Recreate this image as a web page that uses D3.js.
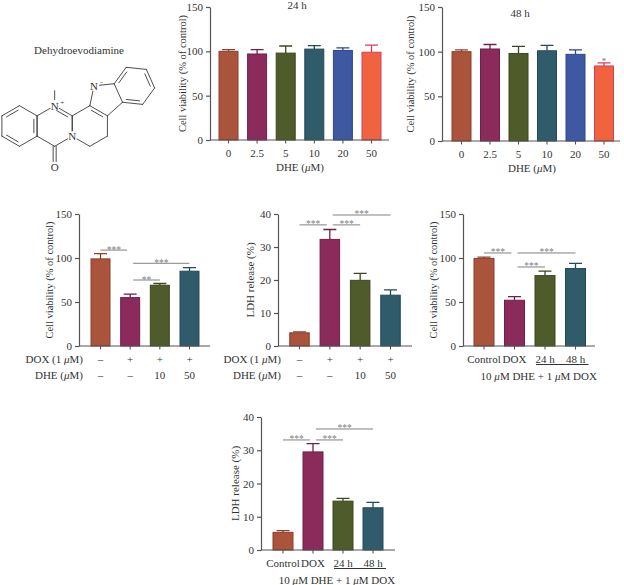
<!DOCTYPE html>
<html><head><meta charset="utf-8">
<script src="https://cdn.jsdelivr.net/npm/d3@7"></script>
<style>
body{margin:0;background:#fff;}
svg{display:block;font-family:"Liberation Serif","Times New Roman",serif;}
</style>
</head><body>
<svg id="c" width="624" height="585"></svg>
<script>
// ---------------- data ----------------
const doseLabels = ["0","2.5","5","10","20","50"];
const via24h = [100, 97, 98, 102.5, 101, 99];
const via24hErr = [2, 5, 8, 4, 3, 8];
const via48h = [100, 103, 98, 101, 97, 84];
const via48hErr = [2, 5, 8, 6, 5, 3.5];
const sig48h = [[5, "*"]];

const treatGroups = ["ctrl","dox","dox+dhe10","dox+dhe50"];
const doxRow = ["–","+","+","+"];
const dheRow = ["–","–","10","50"];
const viaTreat = [99, 55, 69, 85];
const viaTreatErr = [6, 4, 2, 4];
const ldhTreat = [4.0, 32.3, 19.9, 15.4];
const ldhTreatErr = [0.3, 3.0, 2.1, 1.6];

const timeGroups = ["Control","DOX","24 h","48 h"];
const viaTime = [99.5, 52, 80, 88];
const viaTimeErr = [1.5, 4, 5, 6];
const ldhTime = [5.3, 29.5, 14.7, 12.7];
const ldhTimeErr = [0.5, 2.5, 0.8, 1.6];

const viaTicks = [0, 50, 100, 150];
const ldhTicks = [0, 10, 20, 30, 40];

// significance brackets: [fromIndex, toIndex, level (data units), label]
const sigViaTreat = [[0,1,109,"***"],[1,3,94,"***"],[1,2,75,"**"]];
const sigLdhTreat = [[0,1,36.7,"***"],[1,2,36.7,"***"],[1,3,39.7,"***"]];
const sigViaTime  = [[0,1,105.7,"***"],[1,2,89.8,"***"],[1,3,105.7,"***"]];
const sigLdhTime  = [[0,1,33.1,"***"],[1,2,33.1,"***"],[1,3,36.4,"***"]];

// ---------------- style ----------------
const fills   = ["#aa543c","#8b2b5b","#4f5b2b","#2f5b6b","#3e58a2","#f0633f"];
const strokes = ["#8c3f2b","#701f48","#3c4721","#234a59","#2d468f","#cf4060"];
const axisCol = "#555";
const textCol = "#333";
const sigCol = "#808080";

const svg = d3.select("#c");

function panel(o){
  const g = svg.append("g");
  const x = d3.scalePoint().domain(o.cats).range([o.c0, o.c1]);
  const y = d3.scaleLinear().domain([0, o.ymax]).range([o.yb, o.yt]);
  const bw = o.bw;
  const data = o.vals.map((v,i)=>({c:o.cats[i], v, e:o.errs[i], i}));

  // error bars
  g.selectAll(".err").data(data).join("path")
    .attr("d", d => `M${x(d.c)},${y(d.v)}V${y(d.v+d.e)}M${x(d.c)-6.5},${y(d.v+d.e)}H${x(d.c)+6.5}`)
    .attr("stroke", d => strokes[d.i]).attr("stroke-width", 1.3).attr("fill","none");
  // bars
  g.selectAll(".bar").data(data).join("rect")
    .attr("x", d => x(d.c)-bw/2).attr("y", d => y(d.v))
    .attr("width", bw).attr("height", d => y(0)-y(d.v))
    .attr("fill", d => fills[d.i]).attr("stroke", d => strokes[d.i]).attr("stroke-width", 1);

  // y axis
  const ya = g.append("g").attr("transform", `translate(${o.ax},0)`)
    .call(d3.axisLeft(y).tickValues(o.ticks).tickSize(4).tickSizeOuter(0).tickPadding(3));
  ya.select(".domain").attr("stroke", axisCol).attr("stroke-width", 1.2);
  ya.selectAll(".tick line").attr("stroke", axisCol).attr("stroke-width", 1.2);
  ya.selectAll(".tick text").attr("fill", textCol).attr("font-size", 11)
    .attr("font-family", '"Liberation Serif","Times New Roman",serif');

  // x axis line + ticks
  g.append("line").attr("x1", o.ax).attr("x2", o.xend).attr("y1", y(0)).attr("y2", y(0))
    .attr("stroke", axisCol).attr("stroke-width", 1.2);
  g.selectAll(".xt").data(o.cats).join("line")
    .attr("x1", d=>x(d)).attr("x2", d=>x(d)).attr("y1", y(0)).attr("y2", y(0)+3.5)
    .attr("stroke", axisCol).attr("stroke-width", 1.1);

  // y label
  g.append("text").attr("transform", `translate(${o.labX},${(o.yt+o.yb)/2}) rotate(-90)`)
    .attr("text-anchor","middle").attr("dominant-baseline","central")
    .attr("font-size", o.labSize||11).attr("fill", textCol).text(o.ylab);

  // significance
  if (o.sig){
    o.sig.forEach(s => {
      const x1 = x(o.cats[s[0]]) + (s[0]===1 ? 3 : 0);
      const x2 = x(o.cats[s[1]]) - (s[1]===1 ? 3 : 0);
      const yy = y(s[2]);
      g.append("line").attr("x1",x1).attr("x2",x2).attr("y1",yy).attr("y2",yy)
        .attr("stroke", sigCol).attr("stroke-width", 1);
      g.append("text").attr("x",(x1+x2)/2).attr("y",yy+2.5).attr("text-anchor","middle")
        .attr("font-size", 9.5).attr("fill", sigCol).text(s[3]);
    });
  }
  return {x, y, g};
}

function muText(sel, parts){
  // parts: array of [text, italic]
  parts.forEach(p => sel.append("tspan").attr("font-style", p[1] ? "italic" : null).text(p[0]));
  return sel;
}

// ---- Panel B: 24 h ----
const pB = panel({cats:doseLabels, vals:via24h, errs:via24hErr, ymax:150, ticks:viaTicks,
  ax:210, c0:228.5, c1:371.5, xend:389, yt:7, yb:140, bw:19, labX:182, labSize:10.5,
  ylab:"Cell viability (% of control)"});
pB.g.selectAll(".xl").data(doseLabels).join("text").attr("x", d=>pB.x(d)).attr("y", 157)
  .attr("text-anchor","middle").attr("font-size",11).attr("fill",textCol).text(d=>d);
muText(pB.g.append("text").attr("x",300).attr("y",171).attr("text-anchor","middle")
  .attr("font-size",11).attr("fill",textCol), [["DHE (",0],["μ",1],["M)",0]]);
pB.g.append("text").attr("x",297).attr("y",9).attr("text-anchor","middle")
  .attr("font-size",11).attr("fill",textCol).text("24 h");

// ---- Panel C: 48 h ----
const pC = panel({cats:doseLabels, vals:via48h, errs:via48hErr, ymax:150, ticks:viaTicks,
  ax:442, c0:461.5, c1:604, xend:620, yt:7, yb:141, bw:19, labX:410, labSize:10.5,
  ylab:"Cell viability (% of control)"});
pC.g.selectAll(".xl").data(doseLabels).join("text").attr("x", d=>pC.x(d)).attr("y", 158)
  .attr("text-anchor","middle").attr("font-size",11).attr("fill",textCol).text(d=>d);
muText(pC.g.append("text").attr("x",532).attr("y",172).attr("text-anchor","middle")
  .attr("font-size",11).attr("fill",textCol), [["DHE (",0],["μ",1],["M)",0]]);
pC.g.append("text").attr("x",520).attr("y",17).attr("text-anchor","middle")
  .attr("font-size",11).attr("fill",textCol).text("48 h");
sig48h.forEach(s => {
  const i = s[0];
  pC.g.append("text").attr("x", pC.x(doseLabels[i])).attr("y", pC.y(via48h[i]+via48hErr[i]) + 1)
    .attr("text-anchor","middle").attr("font-size",9).attr("fill","#b04a80").text(s[1]);
});

// ---- rows helper ----
function rows(p, labX, y0){
  muText(p.g.append("text").attr("x",labX).attr("y",y0+16.5).attr("text-anchor","end")
    .attr("font-size",11).attr("fill",textCol), [["DOX (1 ",0],["μ",1],["M)",0]]);
  muText(p.g.append("text").attr("x",labX).attr("y",y0+32.5).attr("text-anchor","end")
    .attr("font-size",11).attr("fill",textCol), [["DHE (",0],["μ",1],["M)",0]]);
  p.g.selectAll(".r1").data(treatGroups).join("text").attr("x",d=>p.x(d)).attr("y",y0+16.5)
    .attr("text-anchor","middle").attr("font-size",11).attr("fill",textCol).text((d,i)=>doxRow[i]);
  p.g.selectAll(".r2").data(treatGroups).join("text").attr("x",d=>p.x(d)).attr("y",y0+32.5)
    .attr("text-anchor","middle").attr("font-size",11).attr("fill",textCol).text((d,i)=>dheRow[i]);
}

// ---- Panel D ----
const pD = panel({cats:treatGroups, vals:viaTreat, errs:viaTreatErr, ymax:150, ticks:viaTicks,
  ax:79, c0:100.5, c1:189.5, xend:210, yt:214, yb:346, bw:19, labX:49, labSize:10.5,
  ylab:"Cell viability (% of control)", sig:sigViaTreat});
rows(pD, 83, 346);

// ---- Panel E ----
const pE = panel({cats:treatGroups, vals:ldhTreat, errs:ldhTreatErr, ymax:40, ticks:ldhTicks,
  ax:278, c0:299.5, c1:390.5, xend:412, yt:214, yb:346, bw:19.5, labX:250,
  ylab:"LDH release (%)", sig:sigLdhTreat});
rows(pE, 281, 346);

// ---- time panels helper ----
function timeLabels(p, y0){
  p.g.selectAll(".tl").data(timeGroups).join("text").attr("x",d=>p.x(d)).attr("y",y0+16.5)
    .attr("text-anchor","middle").attr("font-size",11).attr("fill",textCol).text(d=>d);
  const xa = p.x(timeGroups[2]) - 9, xb = p.x(timeGroups[3]) + 13;
  p.g.append("line").attr("x1",xa).attr("x2",xb).attr("y1",y0+18.5).attr("y2",y0+18.5)
    .attr("stroke","#333").attr("stroke-width",1);
  const cx = (p.x(timeGroups[1]) + p.x(timeGroups[2]))/2 + 9;
  muText(p.g.append("text").attr("x",cx).attr("y",y0+33.5).attr("text-anchor","middle")
    .attr("font-size",11).attr("fill",textCol),
    [["10 ",0],["μ",1],["M DHE + 1 ",0],["μ",1],["M DOX",0]]);
}

// ---- Panel F ----
const pF = panel({cats:timeGroups, vals:viaTime, errs:viaTimeErr, ymax:150, ticks:viaTicks,
  ax:463, c0:484, c1:575.5, xend:595, yt:214, yb:346, bw:20, labX:433, labSize:10.5,
  ylab:"Cell viability (% of control)", sig:sigViaTime});
timeLabels(pF, 346);

// ---- Panel G ----
const pG = panel({cats:timeGroups, vals:ldhTime, errs:ldhTimeErr, ymax:40, ticks:ldhTicks,
  ax:261, c0:283, c1:373, xend:395, yt:417, yb:550, bw:20, labX:235,
  ylab:"LDH release (%)", sig:sigLdhTime});
timeLabels(pG, 550);

// ---------------- structure (Dehydroevodiamine) ----------------
const mol = svg.append("g");
mol.append("text").attr("x",79).attr("y",53.5).attr("text-anchor","middle")
  .attr("font-size",11).attr("fill",textCol).text("Dehydroevodiamine");
const R = 20.3, H = R*Math.sqrt(3)/2;
const hex = (cx,cy) => d3.range(6).map(k => { const a=(-90+60*k)*Math.PI/180; return [cx+R*Math.cos(a), cy+R*Math.sin(a)]; });
const A = hex(19.5,126), B = hex(19.5+2*H,126), Cr = hex(19.5+4*H,126);
const P1 = Cr[0], P2 = Cr[1];
const ux=(P2[0]-P1[0])/R, uy=(P2[1]-P1[1])/R, nx=uy, ny=-ux;
const c72=Math.cos(72*Math.PI/180), s72=Math.sin(72*Math.PI/180);
const P5=[P1[0]+R*(-c72*ux+s72*nx), P1[1]+R*(-c72*uy+s72*ny)];
const P3=[P2[0]+R*(c72*ux+s72*nx), P2[1]+R*(c72*uy+s72*ny)];
const Mp=[(P1[0]+P2[0])/2,(P1[1]+P2[1])/2];
const P4=[Mp[0]+nx*R*1.5388, Mp[1]+ny*R*1.5388];
const pc=[Mp[0]+nx*R*0.6882, Mp[1]+ny*R*0.6882];
const M2=[(P4[0]+P3[0])/2,(P4[1]+P3[1])/2];
let dx=M2[0]-pc[0], dy=M2[1]-pc[1]; const dl=Math.hypot(dx,dy); dx/=dl; dy/=dl;
const Cb=[M2[0]+dx*H, M2[1]+dy*H];
const a4=Math.atan2(P4[1]-Cb[1],P4[0]-Cb[0]), a3=Math.atan2(P3[1]-Cb[1],P3[0]-Cb[0]);
let da=a3-a4; while(da>Math.PI) da-=2*Math.PI; while(da<-Math.PI) da+=2*Math.PI;
const sg=Math.sign(da);
const D = d3.range(6).map(k=>[Cb[0]+R*Math.cos(a4+sg*k*Math.PI/3), Cb[1]+R*Math.sin(a4+sg*k*Math.PI/3)]);

const segs = [];
const ring = r => r.forEach((p,i)=>segs.push([p, r[(i+1)%6]]));
ring(A); ring(B); ring(Cr); ring(D);
segs.push([P1,P5],[P5,P4],[P3,P2]);
const inner = (p,q,c) => {
  const mx=(p[0]+q[0])/2, my=(p[1]+q[1])/2;
  let vx=c[0]-mx, vy=c[1]-my; const l=Math.hypot(vx,vy); vx*=3.2/l; vy*=3.2/l;
  const f=0.17;
  return [[p[0]+(q[0]-p[0])*f+vx, p[1]+(q[1]-p[1])*f+vy],[q[0]+(p[0]-q[0])*f+vx, q[1]+(p[1]-q[1])*f+vy]];
};
const cA=[19.5,126], cB=[19.5+2*H,126], cC=[19.5+4*H,126];
[[1,2],[3,4],[5,0]].forEach(e=>segs.push(inner(A[e[0]],A[e[1]],cA)));
segs.push(inner(B[0],B[1],cB));
segs.push(inner(Cr[0],Cr[1],cC));
[[1,2],[3,4],[5,0]].forEach(e=>segs.push(inner(D[e[0]],D[e[1]],Cb)));
// methyl, C=O
const Ob=[B[3][0], B[3][1]+20.5];
segs.push([[B[0][0],B[0][1]-6],[B[0][0],B[0][1]-15]]);
segs.push([[B[3][0]-1.5,B[3][1]],[B[3][0]-1.5,Ob[1]-5]]);
segs.push([[B[3][0]+1.5,B[3][1]],[B[3][0]+1.5,Ob[1]-5]]);
mol.selectAll(".bond").data(segs).join("line")
  .attr("x1",d=>d[0][0]).attr("y1",d=>d[0][1]).attr("x2",d=>d[1][0]).attr("y2",d=>d[1][1])
  .attr("stroke","#3a3a3a").attr("stroke-width",0.9).attr("stroke-linecap","round");
const atoms = [[B[0],"N","+"],[Cr[4],"N",""],[P5,"N","−"],[Ob,"O",""]];
mol.selectAll(".mask").data(atoms).join("circle").attr("cx",d=>d[0][0]).attr("cy",d=>d[0][1])
  .attr("r",5).attr("fill","#fff");
atoms.forEach(a=>{
  mol.append("text").attr("x",a[0][0]).attr("y",a[0][1]+4).attr("text-anchor","middle")
    .attr("font-size",11).attr("fill","#333").text(a[1]);
  if(a[2]) mol.append("text").attr("x",a[0][0]+5.5).attr("y",a[0][1]-0.5)
    .attr("font-size",7).attr("fill","#333").text(a[2]);
});
</script>
</body></html>
